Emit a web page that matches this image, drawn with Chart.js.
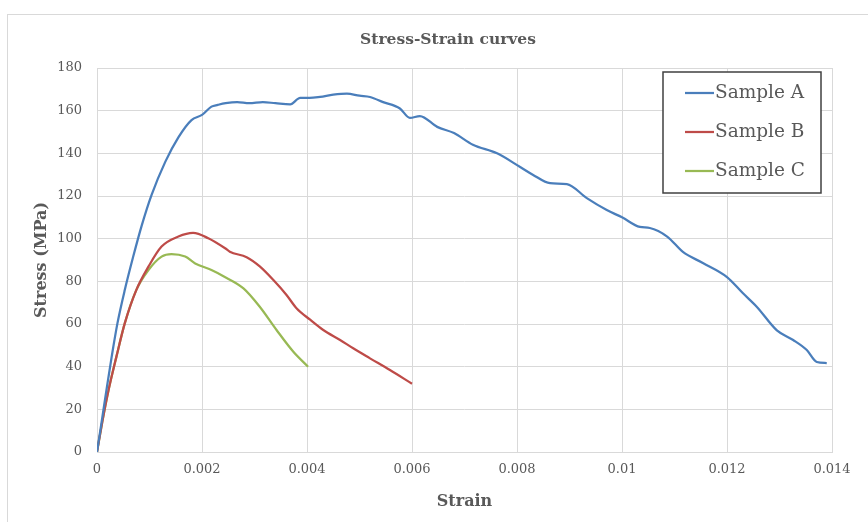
<!DOCTYPE html>
<html>
<head>
<meta charset="utf-8">
<script src="https://cdn.jsdelivr.net/npm/chart.js@4.4.1/dist/chart.umd.min.js"></script>
<style>
  body { margin: 0; background: #ffffff; }
  #wrap { width: 868px; height: 522px; }
</style>
</head>
<body>
<div id="wrap"><canvas id="chart" width="868" height="522"></canvas></div>
<script>
const chartTitle = "Stress-Strain curves";
const seriesNames = ["Sample A", "Sample B", "Sample C"];

const strainA = [0, 0.0001, 0.00018, 0.00028, 0.00039, 0.00053, 0.00069, 0.00085, 0.00104, 0.0013, 0.00155, 0.0018, 0.002, 0.00218, 0.0023, 0.00245, 0.00267, 0.0029, 0.00316, 0.0034, 0.00368, 0.00387, 0.00405, 0.00425, 0.0045, 0.00476, 0.005, 0.0052, 0.00545, 0.00577, 0.00596, 0.00615, 0.00648, 0.0068, 0.00716, 0.00762, 0.00806, 0.0083, 0.00863, 0.00895, 0.00933, 0.00971, 0.01, 0.01034, 0.01053, 0.01086, 0.01116, 0.01154, 0.012, 0.0123, 0.01257, 0.01295, 0.01326, 0.01352, 0.01371, 0.0139];
const stressA = [0, 16, 29, 44.7, 60.4, 76, 91.6, 106, 120.5, 136, 147.5, 155.6, 158, 161.9, 162.7, 163.5, 164, 163.5, 164, 163.5, 163, 166, 166, 166.5, 167.5, 168, 167, 166.4, 164, 161, 156.6, 157.5, 152.4, 149.5, 144, 140, 133.6, 130, 126, 125.6, 119, 113.4, 110, 105.5, 105, 101, 93.8, 88.6, 82, 74.5, 68, 57, 52.5, 47.8, 42.2, 41.7];

const strainB = [0, 0.0001, 0.00022, 0.00037, 0.00053, 0.00075, 0.00098, 0.00123, 0.00155, 0.00183, 0.00212, 0.00244, 0.00253, 0.00285, 0.0031, 0.00336, 0.00361, 0.0038, 0.00406, 0.00431, 0.00463, 0.00488, 0.0052, 0.00558, 0.006];
const stressB = [0, 14, 29, 44.7, 60.4, 76, 86.9, 96.3, 101, 102.7, 100.2, 95.5, 93.9, 91.3, 87, 80.6, 73.6, 67.4, 62, 57.2, 52.5, 48.6, 43.9, 38.4, 32];

const strainC = [0, 0.0001, 0.00022, 0.00037, 0.00053, 0.00075, 0.00098, 0.00123, 0.00142, 0.00168, 0.00187, 0.00218, 0.0024, 0.00279, 0.0031, 0.00342, 0.00374, 0.00402];
const stressC = [0, 14, 29, 44.7, 60.4, 76, 85.3, 91.6, 92.8, 91.6, 88.4, 85.3, 82.5, 76.7, 68.1, 57.2, 47, 40];

const xTicks = [0, 0.002, 0.004, 0.006, 0.008, 0.01, 0.012, 0.014];
const xTickLabels = ["0", "0.002", "0.004", "0.006", "0.008", "0.01", "0.012", "0.014"];
const yTicks = [0, 20, 40, 60, 80, 100, 120, 140, 160, 180];
const yTickLabels = ["0", "20", "40", "60", "80", "100", "120", "140", "160", "180"];

const colors = ["#4a7ebb", "#be4b48", "#98b954"];
const textColor = "#595959";
const serif = "'DejaVu Serif', 'Liberation Serif', serif";

function toPoints(xs, ys) {
  return xs.map((x, i) => ({ x: x, y: ys[i] }));
}

// white page, thin frame and the title (Excel puts it a bit right of centre)
const frame = {
  id: "frame",
  beforeDraw(chart) {
    const ctx = chart.ctx;
    ctx.save();
    ctx.fillStyle = "#ffffff";
    ctx.fillRect(0, 0, chart.width, chart.height);
    ctx.strokeStyle = "#d9d9d9";
    ctx.lineWidth = 1;
    ctx.strokeRect(7.5, 14.5, 900, 600);
    ctx.fillStyle = textColor;
    ctx.font = "bold 15.5px " + serif;
    ctx.textAlign = "center";
    ctx.textBaseline = "middle";
    ctx.fillText(chartTitle, 448, 40);
    ctx.restore();
  },
};

const boxLegend = {
  id: "boxLegend",
  afterDraw(chart) {
    const ctx = chart.ctx;
    const area = chart.chartArea;
    const left = area.right - 169;
    const top = area.top + 4;
    ctx.save();
    ctx.fillStyle = "#ffffff";
    ctx.fillRect(left, top, 158, 121);
    ctx.strokeStyle = "#404040";
    ctx.lineWidth = 1.5;
    ctx.strokeRect(left, top, 158, 121);
    ctx.font = "18.5px " + serif;
    ctx.textBaseline = "middle";
    chart.data.datasets.forEach((ds, i) => {
      const y = top + 21 + i * 39;
      ctx.strokeStyle = ds.borderColor;
      ctx.lineWidth = 2.25;
      ctx.beginPath();
      ctx.moveTo(left + 22, y);
      ctx.lineTo(left + 51, y);
      ctx.stroke();
      ctx.fillStyle = textColor;
      ctx.fillText(ds.label, left + 52, y);
    });
    ctx.restore();
  },
};

new Chart(document.getElementById("chart"), {
  type: "line",
  data: {
    datasets: [
      { label: seriesNames[0], data: toPoints(strainA, stressA), borderColor: colors[0] },
      { label: seriesNames[1], data: toPoints(strainB, stressB), borderColor: colors[1] },
      { label: seriesNames[2], data: toPoints(strainC, stressC), borderColor: colors[2] },
    ],
  },
  options: {
    responsive: false,
    animation: false,
    layout: { padding: { left: 20, right: 36, top: 68, bottom: 10 } },
    elements: {
      line: { borderWidth: 2.25, tension: 0, cubicInterpolationMode: "monotone", fill: false },
      point: { radius: 0, hoverRadius: 0 },
    },
    plugins: {
      legend: { display: false },
      tooltip: { enabled: false },
      title: { display: false },
    },
    scales: {
      x: {
        type: "linear",
        min: 0,
        max: 0.014,
        afterBuildTicks: (scale) => { scale.ticks = xTicks.map((v) => ({ value: v })); },
        afterFit: (scale) => { scale.height = 60; },
        grid: { color: "#d9d9d9", drawTicks: false },
        border: { color: "#d9d9d9" },
        ticks: {
          color: textColor,
          font: { family: serif, size: 13 },
          padding: 10,
          maxRotation: 0,
          callback: (v, i) => xTickLabels[i],
        },
        title: {
          display: true,
          text: "Strain",
          color: textColor,
          font: { family: serif, size: 16, weight: "bold" },
          padding: { top: 0, bottom: 1 },
        },
      },
      y: {
        min: 0,
        max: 180,
        afterBuildTicks: (scale) => { scale.ticks = yTicks.map((v) => ({ value: v })); },
        afterFit: (scale) => { scale.width = 77; },
        grid: { color: "#d9d9d9", drawTicks: false },
        border: { display: false },
        ticks: {
          color: textColor,
          font: { family: serif, size: 13 },
          padding: 15,
          callback: (v, i) => yTickLabels[i],
        },
        title: {
          display: true,
          text: "Stress (MPa)",
          color: textColor,
          font: { family: serif, size: 16, weight: "bold" },
          padding: { top: 12, bottom: 0 },
        },
      },
    },
  },
  plugins: [frame, boxLegend],
});
</script>
</body>
</html>
